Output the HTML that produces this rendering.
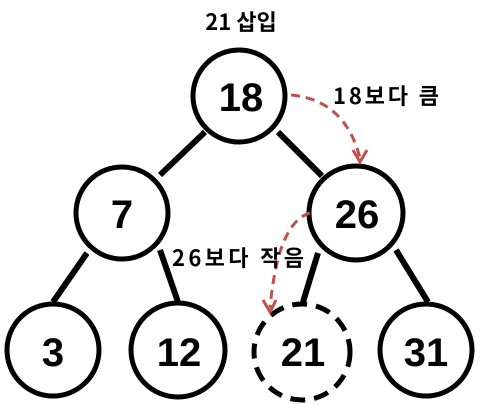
<!DOCTYPE html>
<html><head><meta charset="utf-8"><style>
html,body{margin:0;padding:0;background:#fff;}
svg{display:block;}
text{font-family:"Liberation Sans","Noto Sans CJK KR",sans-serif;font-weight:bold;fill:#000;}
.kr{font-family:"Noto Sans CJK KR","Liberation Sans",sans-serif;}
</style></head><body>
<svg width="480" height="404" viewBox="0 0 480 404">
<g stroke="#000" stroke-width="6">
<line x1="205" y1="132" x2="160" y2="175"/>
<line x1="278" y1="132" x2="322" y2="176"/>
<line x1="87" y1="253" x2="53" y2="302"/>
<line x1="160" y1="250" x2="178" y2="302"/>
<line x1="318" y1="253" x2="303" y2="302"/>
<line x1="396" y1="250" x2="428" y2="302"/>
</g>
<g fill="#fff" stroke="#000" stroke-width="5">
<circle cx="239" cy="96" r="46"/>
<circle cx="122" cy="213" r="46"/>
<circle cx="356" cy="213" r="47"/>
<circle cx="53" cy="350" r="46"/>
<circle cx="178" cy="350" r="47"/>
<circle cx="302" cy="352" r="48" stroke-dasharray="15,9"/>
<circle cx="426" cy="350" r="46"/>
</g>
<g font-size="40" text-anchor="middle">
<text x="241" y="111">18</text>
<text x="122" y="228">7</text>
<text x="357" y="228">26</text>
<text x="53" y="366">3</text>
<text x="179" y="366">12</text>
<text x="303" y="366">21</text>
<text x="426" y="366">31</text>
</g>
<g fill="none" stroke="#c0504d" stroke-width="3" stroke-dasharray="9,6">
<path d="M291 95 Q345 100 360 158"/>
<path d="M310 213 Q278 222 270 308"/>
</g>
<g fill="none" stroke="#c0504d" stroke-width="3">
<path d="M353 150 L360 162 L367 150"/>
<path d="M263 300 L270 312 L276 300"/>
</g>
<text class="kr" x="241" y="30" font-size="22" text-anchor="middle">21 삽입</text>
<text class="kr" x="333" y="104" font-size="22" textLength="106">18보다 큼</text>
<text class="kr" x="172" y="266" font-size="22" textLength="132">26보다 작음</text>
</svg>
</body></html>
